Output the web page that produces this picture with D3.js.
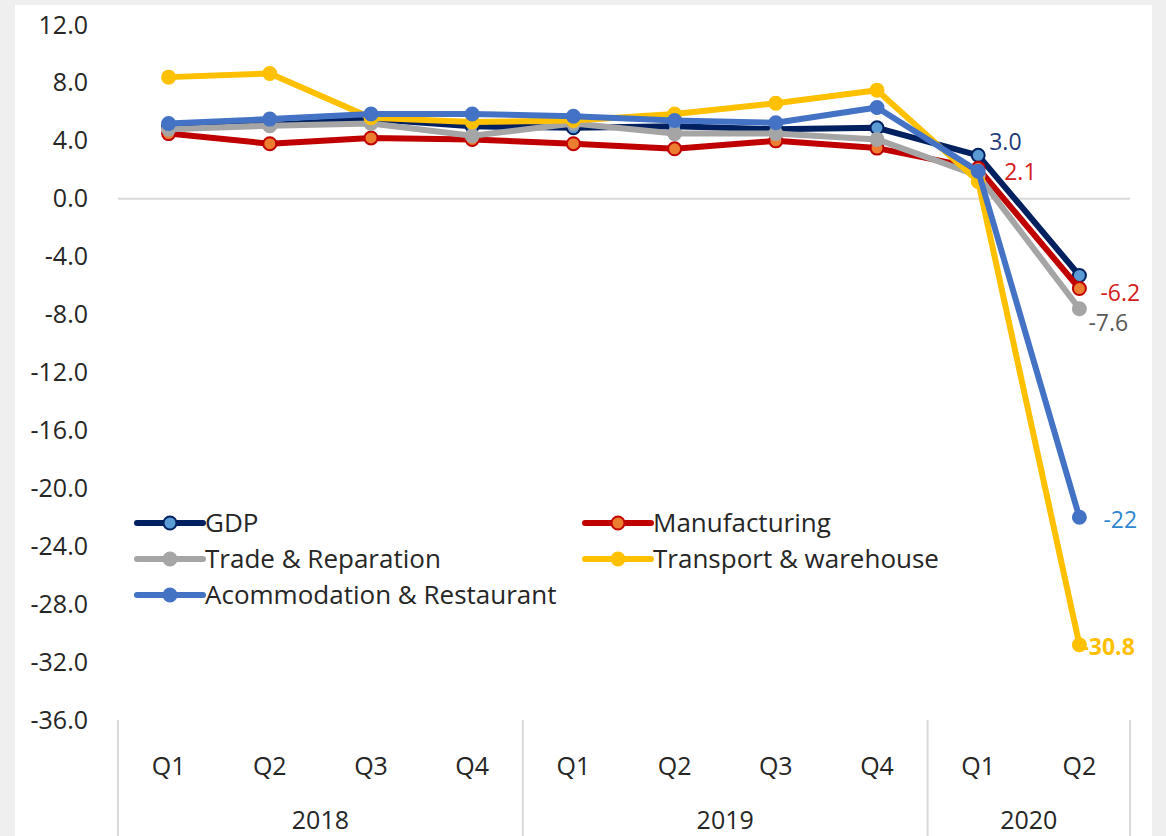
<!DOCTYPE html>
<html><head><meta charset="utf-8">
<script src="https://cdn.jsdelivr.net/npm/d3@7"></script>
<style>
html,body{margin:0;padding:0;background:#efefef;}
svg{display:block;font-family:"Open Sans",Lato,sans-serif;}
</style></head>
<body><svg id="c" width="1166" height="836"></svg>
<script>
// ---- data ----
const quarters = ["Q1","Q2","Q3","Q4","Q1","Q2","Q3","Q4","Q1","Q2"];
const years = ["2018","2019","2020"];
const yearSpans = [4,4,2];
const yTicks = [12,8,4,0,-4,-8,-12,-16,-20,-24,-28,-32,-36];
const seriesNames = ["GDP","Manufacturing","Trade & Reparation","Transport & warehouse","Acommodation & Restaurant"];
const gdp = [5.0,5.1,5.5,5.0,4.9,5.0,4.8,4.9,3.0,-5.3];
const manufacturing = [4.5,3.8,4.2,4.1,3.8,3.45,4.0,3.5,2.1,-6.2];
const trade = [4.8,5.05,5.2,4.35,5.2,4.5,4.5,4.1,1.6,-7.6];
const transport = [8.4,8.65,5.6,5.3,5.4,5.85,6.6,7.5,1.2,-30.8];
const accommodation = [5.2,5.5,5.85,5.85,5.7,5.4,5.25,6.3,1.9,-22.0];
const labelTexts = [["3.0",null],["2.1","-6.2"],[null,"-7.6"],[null,"-30.8"],[null,"-22"]]; // [Q1 2020, Q2 2020]

// ---- styles ----
const lineColors = ["#002060","#c00000","#a5a5a5","#ffc000","#4472c4"];
const markerFill = ["#5b9bd5","#ed7d31","#a5a5a5","#ffc000","#4472c4"];
const markerStroke = ["#002060","#c00000","#a5a5a5","#ffc000","#4472c4"];
const labelColors = ["#1f3a7a","#d42020","#595959","#ffc000","#2e86d0"];
const values = [gdp, manufacturing, trade, transport, accommodation];
const txt = "#262626";

const svg = d3.select("#c");
svg.append("rect").attr("x",15).attr("y",5).attr("width",1137).attr("height",831).attr("fill","#fff");

const x0 = 118, x1 = 1130;
const x = d3.scaleBand().domain(d3.range(quarters.length)).range([x0,x1]).padding(0);
const y = d3.scaleLinear().domain([-36,12]).range([720,25]);
const fmt = d => d3.format(".1f")(d).replace("\u2212","-");

// y axis labels
const yAxis = d3.axisLeft(y).tickValues(yTicks).tickFormat(fmt).tickSize(0).tickPadding(0);
const ya = svg.append("g").attr("transform","translate(88,0)").call(yAxis);
ya.select(".domain").remove();
ya.selectAll("text").attr("font-size",25).attr("fill",txt).attr("font-family","'Open Sans',sans-serif");

// zero line
svg.append("line").attr("x1",x0).attr("x2",x1).attr("y1",y(0)).attr("y2",y(0)).attr("stroke","#d9d9d9").attr("stroke-width",2);

// category axis
svg.append("g").selectAll("text").data(quarters).join("text")
  .attr("x",(d,i)=>x(i)+x.bandwidth()/2).attr("y",775)
  .attr("text-anchor","middle").attr("font-size",25).attr("fill",txt).text(d=>d);
let cum = 0;
const bounds = [0];
yearSpans.forEach(s=>{cum+=s;bounds.push(cum);});
const bx = d => d<quarters.length? x(d): x1;
svg.selectAll("line.sep").data(bounds).join("line").attr("class","sep")
  .attr("x1",bx).attr("x2",bx)
  .attr("y1",720).attr("y2",836).attr("stroke","#d9d9d9").attr("stroke-width",2);
svg.selectAll("text.yr").data(years).join("text").attr("class","yr")
  .attr("x",(d,i)=>(bx(bounds[i])+bx(bounds[i+1]))/2)
  .attr("y",829).attr("text-anchor","middle").attr("font-size",25).attr("fill",txt).text(d=>d);

// lines
const cx = i => x(i)+x.bandwidth()/2;
const line = d3.line().x((d,i)=>cx(i)).y(d=>y(d));
values.forEach((vals,si)=>{
  const g = svg.append("g");
  g.append("path").datum(vals).attr("d",line).attr("fill","none")
    .attr("stroke",lineColors[si]).attr("stroke-width",6).attr("stroke-linejoin","round");
  g.selectAll("circle").data(vals).join("circle")
    .attr("cx",(d,i)=>cx(i)).attr("cy",d=>y(d)).attr("r",6.5)
    .attr("fill",markerFill[si]).attr("stroke",markerStroke[si]).attr("stroke-width",2);
});

// data labels
const labelOffsets = [[[11,-5],null],[[26,12],[21,12]],[null,[9,22]],[null,[2,10]],[null,[24,11]]];
labelTexts.forEach((arr,si)=>{
  arr.forEach((t,k)=>{
    if(!t) return;
    const i = 8+k;
    const off = labelOffsets[si][k];
    svg.append("text").attr("x",cx(i)+off[0]).attr("y",y(values[si][i])+off[1])
      .attr("font-size",23).attr("fill",labelColors[si])
      .attr("font-weight", si===3? "bold":"normal").text(t);
  });
});

// legend
const legPos = [[137,523],[585,523],[137,559],[585,559],[137,595]];
seriesNames.forEach((n,si)=>{
  const [lx,ly] = legPos[si];
  const g = svg.append("g");
  g.append("line").attr("x1",lx).attr("x2",lx+66).attr("y1",ly).attr("y2",ly)
    .attr("stroke",lineColors[si]).attr("stroke-width",6).attr("stroke-linecap","round");
  g.append("circle").attr("cx",lx+33).attr("cy",ly).attr("r",6.5)
    .attr("fill",markerFill[si]).attr("stroke",markerStroke[si]).attr("stroke-width",2);
  g.append("text").attr("x",lx+68).attr("y",ly+9).attr("font-size",26).attr("fill",txt).text(n);
});
</script></body></html>
